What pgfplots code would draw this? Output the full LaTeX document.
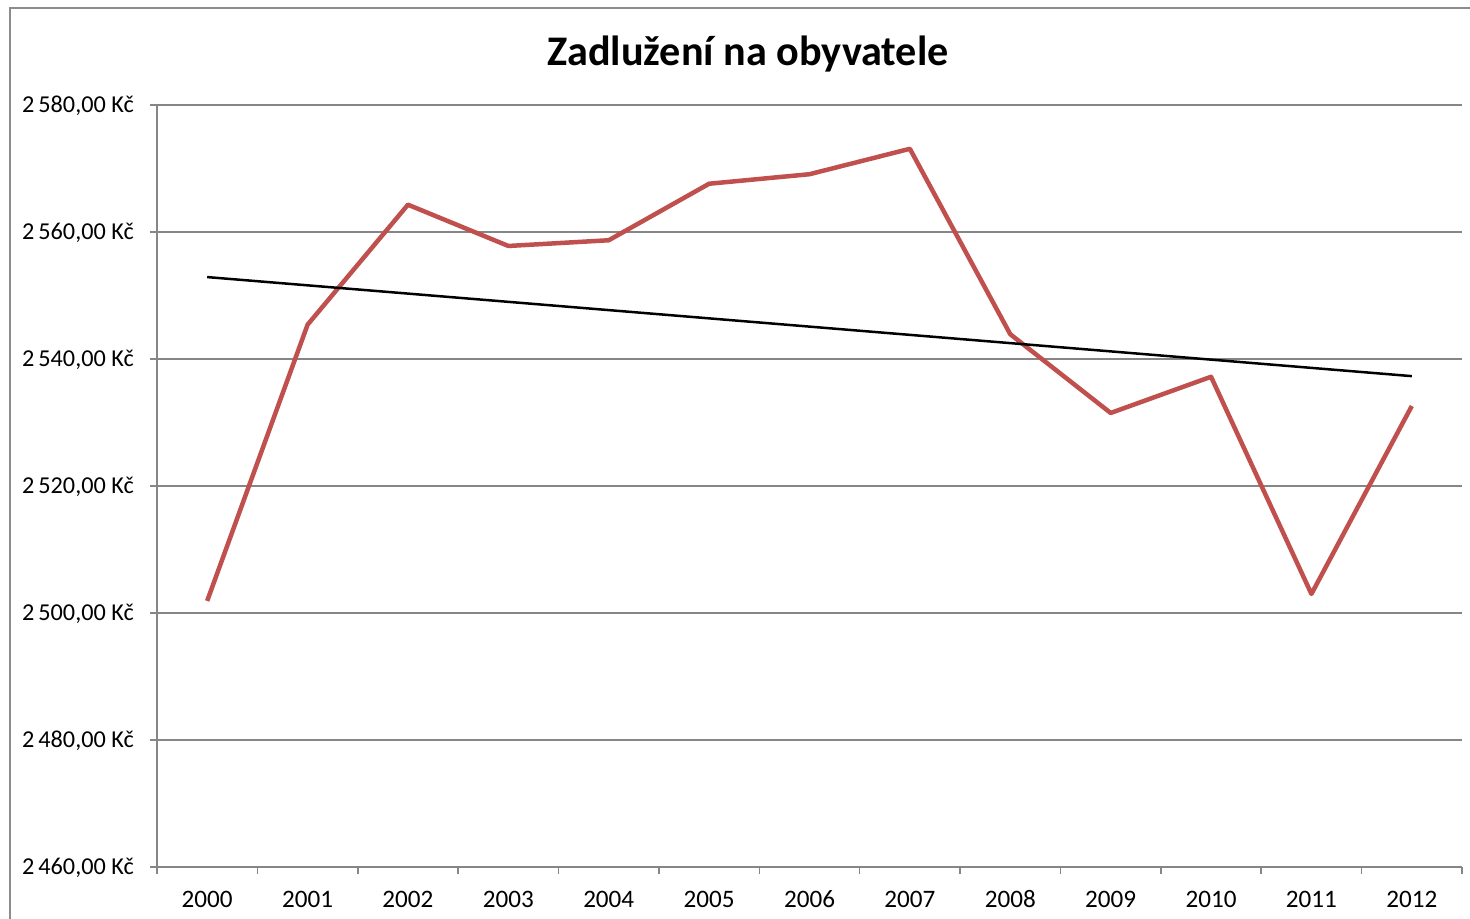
\documentclass[border=0pt]{standalone}
\usepackage{fontspec}
\setmainfont{Carlito}
\usepackage{pgfplots}
\pgfplotsset{compat=1.18}
\definecolor{line}{HTML}{C0504D}
\definecolor{frame}{HTML}{8C8C8C}
\definecolor{gridc}{HTML}{868686}

\begin{document}
\begin{tikzpicture}
% 1 px of the reference = 0.02 cm
\useasboundingbox (0,0) rectangle (29.4,18.38);
\draw[frame,line width=0.04cm] (0.2,0)--(0.2,18.22)--(29.4,18.22);
\node[font=\fontsize{24}{28}\selectfont\bfseries] at (14.96,17.30) {Zadlužení na obyvatele};
\begin{axis}[at={(3.14cm,1.04cm)},anchor=south west,scale only axis,
  width=26.1cm,height=15.24cm,
  xmin=-0.5,xmax=12.5,ymin=2460,ymax=2580,
  axis x line*=bottom,axis y line*=left,
  axis line style={-,draw=gridc,line width=0.03cm},
  xtick={-0.5,0.5,...,12.5},x tick label as interval=true,
  xticklabels={2000,2001,2002,2003,2004,2005,2006,2007,2008,2009,2010,2011,2012},
  ytick={2460,2480,2500,2520,2540,2560,2580},
  yticklabels={{2\,460,00 Kč},{2\,480,00 Kč},{2\,500,00 Kč},{2\,520,00 Kč},{2\,540,00 Kč},{2\,560,00 Kč},{2\,580,00 Kč}},
  typeset ticklabels with strut,
  tick align=outside,major tick length=0.14cm,
  tick style={draw=gridc,line width=0.03cm},
  ymajorgrids,grid style={draw=gridc,line width=0.03cm},
  tick label style={font=\fontsize{14.3}{17}\selectfont},
  xticklabel style={yshift=-0.12cm},
  yticklabel style={xshift=-0.2cm,yshift=-0.03cm,font=\fontsize{13.8}{17}\selectfont},
  clip=false]
  \addplot[line,line width=0.09cm,line join=round] coordinates {
    (0,2501.9) (1,2545.4) (2,2564.3) (3,2557.8) (4,2558.7) (5,2567.6) (6,2569.1)
    (7,2573.1) (8,2543.9) (9,2531.5) (10,2537.2) (11,2503.0) (12,2532.6)};
  \addplot[black,line width=0.05cm] coordinates {(0,2552.9) (12,2537.3)};
\end{axis}
\end{tikzpicture}
\end{document}
